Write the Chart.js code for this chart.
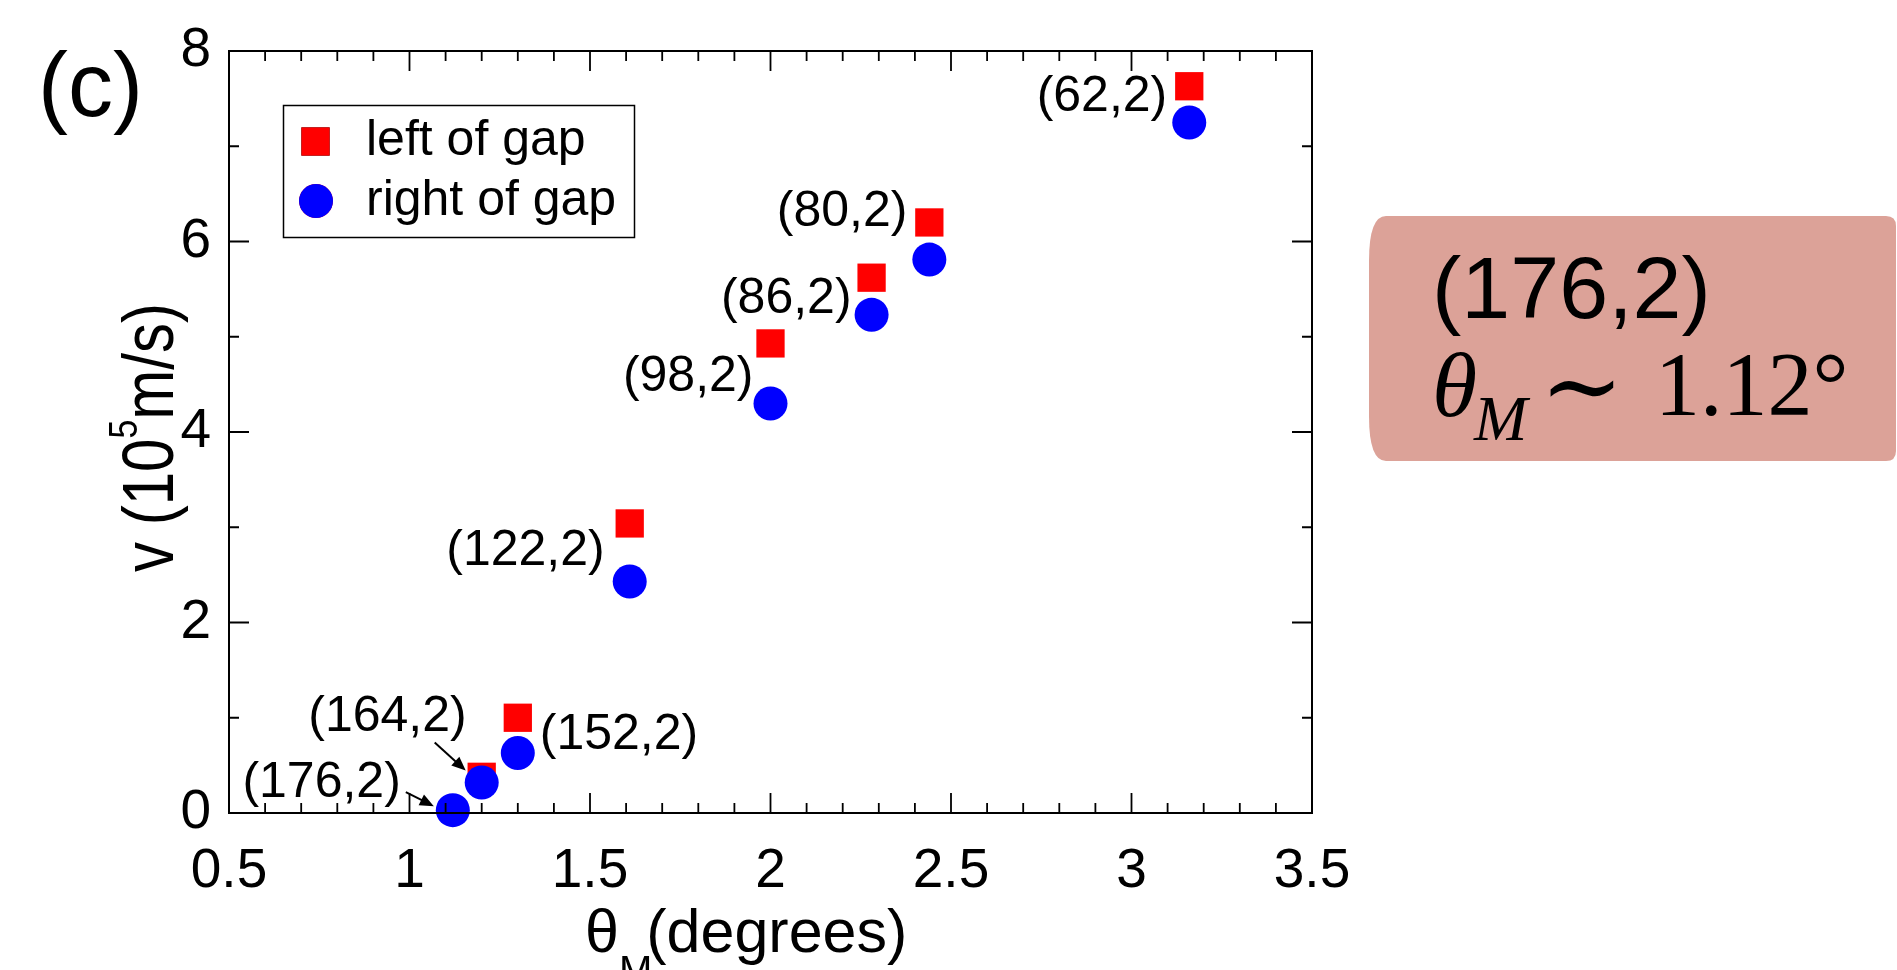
<!DOCTYPE html>
<html>
<head>
<meta charset="utf-8">
<script src="https://cdn.jsdelivr.net/npm/chart.js@4.4.1/dist/chart.umd.min.js"></script>
<style>
  html, body { margin: 0; padding: 0; background: #fff; overflow: hidden; }
</style>
</head>
<body>
<canvas id="chart" width="1897" height="970"></canvas>
<script>
// (m,r) structures, twist angle and velocity either side of the gap
const configs = ['(62,2)', '(80,2)', '(86,2)', '(98,2)', '(122,2)', '(152,2)', '(164,2)', '(176,2)']
const thetaM = [3.16, 2.44, 2.28, 2.00, 1.61, 1.30, 1.20, 1.12]
const vLeftOfGap = [7.63, 6.20, 5.62, 4.93, 3.04, 1.00, 0.38, null]
const vRightOfGap = [7.25, 5.81, 5.23, 4.30, 2.43, 0.63, 0.32, 0.03]
const xTicks = [0.5, 1, 1.5, 2, 2.5, 3, 3.5]
const yTicks = [0, 2, 4, 6, 8]

// where each (m,r) label sits relative to its blue point
const labelPlace = [
  { align: 'right', dx: -22, dy: -25 },
  { align: 'right', dx: -22, dy: -47 },
  { align: 'right', dx: -20, dy: -16 },
  { align: 'right', dx: -17, dy: -26 },
  { align: 'right', dx: -25, dy: -30 },
  { align: 'left', dx: 22, dy: -18 },
  { align: 'right', dx: -15, dy: -65, arrow: [-47, -40, -16, -12] },
  { align: 'right', dx: -52, dy: -27, arrow: [-47, -18, -19, -4] }
]

const SANS = "'Liberation Sans', Arial, Helvetica, sans-serif"
const SERIF = "'Liberation Serif', 'Times New Roman', 'DejaVu Serif', serif"

Chart.defaults.font.family = SANS
Chart.defaults.color = '#000'

const toPoints = (ys) => thetaM.map((x, i) => ({ x: x, y: ys[i] })).filter(p => p.y !== null)

function arrow (ctx, x0, y0, x1, y1) {
  const ang = Math.atan2(y1 - y0, x1 - x0)
  const hl = 14, hw = 6
  ctx.beginPath()
  ctx.moveTo(x0, y0)
  ctx.lineTo(x1 - Math.cos(ang) * hl * 0.6, y1 - Math.sin(ang) * hl * 0.6)
  ctx.stroke()
  ctx.beginPath()
  ctx.moveTo(x1, y1)
  ctx.lineTo(x1 - hl * Math.cos(ang) + hw * Math.sin(ang), y1 - hl * Math.sin(ang) - hw * Math.cos(ang))
  ctx.lineTo(x1 - hl * Math.cos(ang) - hw * Math.sin(ang), y1 - hl * Math.sin(ang) + hw * Math.cos(ang))
  ctx.closePath()
  ctx.fill()
}

const decorations = {
  id: 'decorations',
  afterDatasetsDraw (chart) {
    const { ctx, chartArea: a, scales: { x, y } } = chart
    ctx.save()

    // frame with inward ticks on all four sides
    ctx.strokeStyle = '#000'
    ctx.lineWidth = 2
    ctx.strokeRect(a.left, a.top, a.right - a.left, a.bottom - a.top)
    ctx.lineWidth = 1.8
    ctx.beginPath()
    for (let k = 5; k <= 35; k++) {
      const px = x.getPixelForValue(k / 10)
      const len = k % 5 === 0 ? 20 : 10
      ctx.moveTo(px, a.bottom); ctx.lineTo(px, a.bottom - len)
      ctx.moveTo(px, a.top); ctx.lineTo(px, a.top + len)
    }
    for (let k = 0; k <= 8; k++) {
      const py = y.getPixelForValue(k)
      const len = k % 2 === 0 ? 20 : 10
      ctx.moveTo(a.left, py); ctx.lineTo(a.left + len, py)
      ctx.moveTo(a.right, py); ctx.lineTo(a.right - len, py)
    }
    ctx.stroke()

    // point labels
    const blue = chart.getDatasetMeta(1).data
    ctx.fillStyle = '#000'
    ctx.font = '50px ' + SANS
    ctx.textBaseline = 'middle'
    ctx.lineWidth = 2
    configs.forEach((txt, i) => {
      const p = blue[i]
      const s = labelPlace[i]
      ctx.textAlign = s.align
      ctx.fillText(txt, p.x + s.dx, p.y + s.dy)
      if (s.arrow) {
        arrow(ctx, p.x + s.arrow[0], p.y + s.arrow[1], p.x + s.arrow[2], p.y + s.arrow[3])
      }
    })

    // legend
    const ds = chart.data.datasets
    ctx.lineWidth = 1.5
    ctx.strokeRect(283.5, 105.5, 351, 132)
    Chart.helpers.drawPoint(ctx, { pointStyle: ds[0].pointStyle, radius: ds[0].pointRadius, borderWidth: 0 }, 315.5, 141.5)
    ctx.fillStyle = ds[0].backgroundColor
    ctx.fill()
    Chart.helpers.drawPoint(ctx, { pointStyle: ds[1].pointStyle, radius: ds[1].pointRadius, borderWidth: 0 }, 316, 201)
    ctx.fillStyle = ds[1].backgroundColor
    ctx.fill()
    ctx.fillStyle = '#000'
    ctx.textAlign = 'left'
    ctx.textBaseline = 'alphabetic'
    ctx.font = '50px ' + SANS
    ctx.fillText(ds[0].label, 366, 155)
    ctx.fillText(ds[1].label, 366, 215)

    // panel tag
    ctx.font = '90px ' + SANS
    ctx.fillText('(c)', 38, 116)

    // x axis title with subscript
    let tx = 585
    ctx.font = '61px ' + SANS
    ctx.fillText('θ', tx, 952)
    tx += ctx.measureText('θ').width
    ctx.font = '40px ' + SANS
    ctx.fillText('M', tx, 984)
    tx += ctx.measureText('M').width - 6
    ctx.font = '61px ' + SANS
    ctx.fillText('(degrees)', tx, 952)

    // y axis title, rotated, with superscript
    ctx.save()
    ctx.translate(173, 572)
    ctx.rotate(-Math.PI / 2)
    ctx.scale(1, 1.2)
    let ty = 0
    ctx.font = '60px ' + SANS
    ctx.fillText('v (10', ty, 0)
    ty += ctx.measureText('v (10').width
    ctx.font = '34px ' + SANS
    ctx.fillText('5', ty, -30)
    ty += ctx.measureText('5').width
    ctx.font = '60px ' + SANS
    ctx.fillText('m/s)', ty, 0)
    ctx.restore()

    // side note box
    const x0 = 1369, x1 = 1896, y0 = 216, y1 = 461, rx = 17, ry = 45, r = 10
    ctx.fillStyle = 'rgb(220,162,152)'
    ctx.beginPath()
    ctx.moveTo(x0 + rx, y0)
    ctx.lineTo(x1 - r, y0); ctx.quadraticCurveTo(x1, y0, x1, y0 + r)
    ctx.lineTo(x1, y1 - r); ctx.quadraticCurveTo(x1, y1, x1 - r, y1)
    ctx.lineTo(x0 + rx, y1); ctx.quadraticCurveTo(x0, y1, x0, y1 - ry)
    ctx.lineTo(x0, y0 + ry); ctx.quadraticCurveTo(x0, y0, x0 + rx, y0)
    ctx.fill()
    ctx.fillStyle = '#000'
    ctx.font = '88px ' + SANS
    ctx.fillText('(176,2)', 1432, 318)
    ctx.font = 'italic 92px ' + SERIF
    ctx.fillText('θ', 1432, 416)
    ctx.font = 'italic 64px ' + SERIF
    ctx.fillText('M', 1474, 440)
    ctx.font = "100px 'DejaVu Serif', serif"
    ctx.textAlign = 'center'
    ctx.fillText('∼', 1582, 420)
    ctx.textAlign = 'left'
    ctx.font = '90px ' + SERIF
    ctx.fillText('1.12°', 1655, 415)

    ctx.restore()
  }
}

new Chart(document.getElementById('chart'), {
  type: 'scatter',
  data: {
    datasets: [
      {
        label: 'left of gap',
        data: toPoints(vLeftOfGap),
        pointStyle: 'rect',
        pointRadius: 20,
        backgroundColor: '#ff0000',
        borderWidth: 0,
        order: 1,
        clip: false
      },
      {
        label: 'right of gap',
        data: toPoints(vRightOfGap),
        pointStyle: 'circle',
        pointRadius: 17,
        backgroundColor: '#0000ff',
        borderWidth: 0,
        order: 0,
        clip: false
      }
    ]
  },
  options: {
    responsive: false,
    animation: false,
    layout: { padding: { left: 0, right: 585, top: 51, bottom: 0 } },
    plugins: {
      legend: { display: false },
      tooltip: { enabled: false }
    },
    scales: {
      x: {
        type: 'linear',
        min: 0.5,
        max: 3.5,
        grid: { display: false },
        border: { display: false },
        ticks: { font: { size: 55 }, color: '#000', padding: 18, maxRotation: 0, callback: (v) => String(v) },
        afterBuildTicks: (s) => { s.ticks = xTicks.map(v => ({ value: v })) },
        afterFit: (s) => { s.height = 157; s.paddingLeft = 0; s.paddingRight = 0 }
      },
      y: {
        min: 0,
        max: 8,
        grid: { display: false },
        border: { display: false },
        ticks: { font: { size: 55 }, color: '#000', padding: 10, callback: (v) => String(v) },
        afterBuildTicks: (s) => { s.ticks = yTicks.map(v => ({ value: v })) },
        afterFit: (s) => { s.width = 229; s.paddingTop = 0; s.paddingBottom = 0 }
      }
    }
  },
  plugins: [decorations]
})
</script>
</body>
</html>
